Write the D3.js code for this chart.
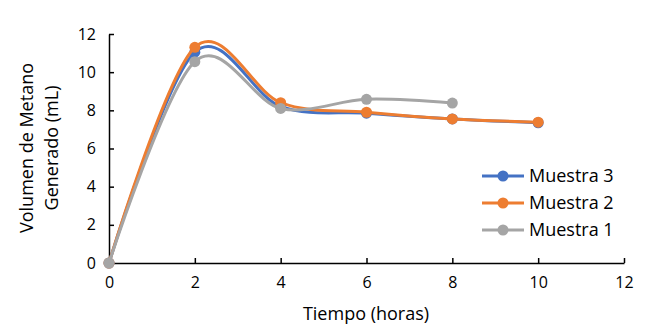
<!DOCTYPE html>
<html><head><meta charset="utf-8">
<script src="https://cdn.jsdelivr.net/npm/d3@7"></script>
<style>body{margin:0;background:#fff}svg{display:block}text{font-family:"Open Sans","Liberation Sans",sans-serif;fill:#000}</style>
</head><body><svg id="c" width="647" height="331"></svg>
<script>
const xTicks = [0,2,4,6,8,10,12];
const yTicks = [0,2,4,6,8,10,12];
const tiempo = [0,2,4,6,8,10];
const muestra3 = [0,11.05,8.2,7.85,7.55,7.35];
const muestra2 = [0,11.3,8.4,7.9,7.55,7.38];
const muestra1 = [0,10.55,8.1,8.58,8.38];
const seriesNames = ["Muestra 3","Muestra 2","Muestra 1"];
const colors = ["#4472C4","#ED7D31","#A5A5A5"];
const series = [muestra3, muestra2, muestra1];
const FF = '"Open Sans","Liberation Sans",sans-serif';

const svg = d3.select("#c");
const x = d3.scaleLinear().domain([0,12]).range([109,624]);
const y = d3.scaleLinear().domain([0,12]).range([263,34]);

const xa = svg.append("g").attr("transform","translate(0,263)")
  .call(d3.axisBottom(x).tickValues(xTicks).tickSizeInner(-5).tickSizeOuter(0).tickPadding(14));
const ya = svg.append("g").attr("transform","translate(109,0)")
  .call(d3.axisLeft(y).tickValues(yTicks).tickSizeInner(-5).tickSizeOuter(0).tickPadding(13));
[xa,ya].forEach(g=>{
  g.select(".domain").attr("stroke","#000").attr("stroke-width",1.5);
  g.selectAll(".tick line").attr("stroke","#000").attr("stroke-width",1.5);
  g.selectAll(".tick text").attr("font-size",16).style("font-family",FF).attr("fill","#000");
});

const line = d3.line().curve(d3.curveCatmullRom.alpha(0)).x((d,i)=>x(tiempo[i])).y(d=>y(d));
series.forEach((s,k)=>{
  svg.append("path").attr("d",line(s)).attr("fill","none").attr("stroke",colors[k]).attr("stroke-width",3);
  svg.selectAll(null).data(s).enter().append("circle")
    .attr("cx",(d,i)=>x(tiempo[i])).attr("cy",d=>y(d)).attr("r",5.5).attr("fill",colors[k]);
});

seriesNames.forEach((n,k)=>{
  const yy = 176 + k*27;
  svg.append("line").attr("x1",482).attr("x2",524).attr("y1",yy).attr("y2",yy).attr("stroke",colors[k]).attr("stroke-width",3);
  svg.append("circle").attr("cx",503).attr("cy",yy).attr("r",5.5).attr("fill",colors[k]);
  svg.append("text").attr("x",529).attr("y",yy+6).attr("font-size",18).text(n);
});

svg.append("text").attr("x",366).attr("y",320).attr("text-anchor","middle").attr("font-size",18).text("Tiempo (horas)");
const yt = svg.append("text").attr("transform","translate(33,148) rotate(-90)").attr("text-anchor","middle").attr("font-size",18);
yt.append("tspan").attr("x",0).attr("dy",0).text("Volumen de Metano");
yt.append("tspan").attr("x",0).attr("dy",25).text("Generado (mL)");
</script></body></html>
